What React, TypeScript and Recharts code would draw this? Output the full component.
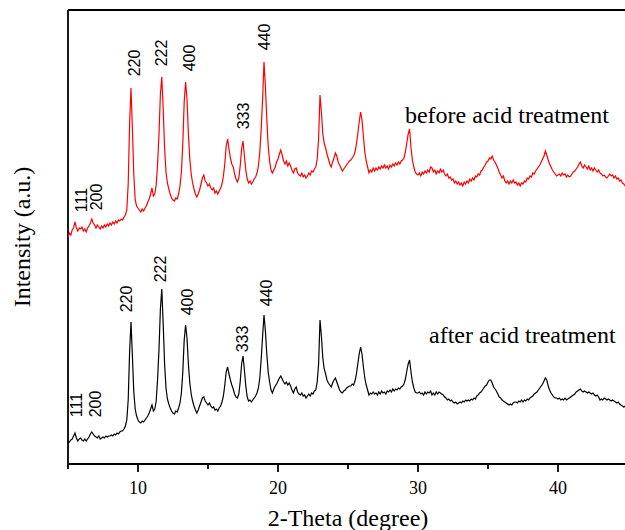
import { LineChart, Line, XAxis, YAxis, ReferenceLine, ReferenceDot } from 'recharts'

// XRD scan: 2-theta from 5 to 45 degree in 0.1 degree steps
const twoThetaStart = 5
const twoThetaStep = 0.1

// intensity (a.u.), one row per degree
const beforeCounts = [
  227, 231, 229, 234, 236, 242, 236, 233, 236, 235,
  237, 233, 235, 232, 236, 238, 241, 245, 241, 239,
  236, 239, 237, 235, 238, 236, 239, 237, 240, 238,
  241, 239, 242, 240, 243, 241, 244, 243, 245, 244,
  247, 249, 254, 280, 340, 376, 335, 290, 264, 258,
  256, 254, 252, 255, 253, 256, 258, 262, 265, 270,
  276, 268, 270, 279, 300, 330, 370, 387, 355, 316,
  292, 281, 275, 270, 266, 264, 263, 266, 265, 270,
  278, 292, 320, 362, 382, 365, 330, 305, 290, 281,
  275, 270, 267, 270, 274, 280, 286, 289, 283, 281,
  278, 280, 276, 274, 276, 271, 273, 270, 273, 276,
  280, 288, 300, 318, 325, 315, 306, 300, 297, 290,
  285, 282, 286, 298, 315, 323, 308, 294, 285, 281,
  283, 280, 282, 285, 287, 291, 298, 312, 335, 365,
  402, 378, 345, 318, 303, 294, 291, 294, 297, 302,
  305, 310, 314, 309, 303, 300, 303, 298, 301, 298,
  294, 291, 295, 296, 291, 289, 288, 291, 287, 289,
  286, 288, 291, 289, 293, 292, 295, 297, 305, 325,
  369, 352, 330, 321, 316, 310, 305, 300, 297, 302,
  306, 311, 308, 302, 299, 296, 293, 295, 297, 299,
  301, 303, 304, 306, 308, 312, 320, 330, 342, 352,
  344, 328, 312, 303, 297, 291, 294, 292, 296, 293,
  296, 294, 297, 295, 298, 296, 299, 296, 298, 295,
  299, 297, 300, 298, 301, 299, 302, 300, 303, 304,
  306, 312, 321, 330, 335, 316, 304, 297, 292, 290,
  289, 291, 288, 292, 290, 293, 291, 294, 292, 297,
  296, 292, 294, 290, 293, 291, 295, 292, 294, 290,
  288, 290, 286, 287, 284, 285, 281, 283, 280, 282,
  279, 281, 278, 282, 280, 283, 281, 285, 283, 286,
  284, 288, 287, 290, 289, 293, 294, 297, 299, 302,
  303, 306, 305, 308, 304, 302, 299, 296, 292, 289,
  286, 288, 283, 281, 283, 280, 283, 281, 284, 281,
  282, 279, 281, 278, 281, 280, 283, 282, 286, 285,
  288, 287, 291, 290, 293, 295, 297, 299, 302, 305,
  308, 313, 309, 304, 300, 297, 294, 292, 290, 288,
  289, 290, 288, 291, 289, 290, 287, 289, 287, 288,
  290, 292, 293, 295, 297, 300, 302, 298, 296, 299,
  297, 295, 298, 294, 296, 293, 296, 294, 292, 294,
  291, 290, 288, 289, 287, 286, 288, 290, 288, 289,
  286, 288, 285, 286, 283, 284, 281, 280, 278, 280,
  280,
]

const afterCounts = [
  21, 22, 24, 25, 28, 31, 26, 23, 25, 26,
  24, 23, 25, 23, 25, 27, 30, 32, 30, 28,
  27, 26, 28, 25, 26, 27, 26, 28, 27, 28,
  28, 29, 28, 30, 29, 31, 30, 32, 33, 33,
  35, 38, 44, 64, 112, 142, 108, 72, 55, 48,
  44, 42, 41, 43, 42, 44, 46, 48, 51, 55,
  59, 53, 55, 63, 85, 115, 155, 175, 140, 100,
  76, 65, 60, 56, 53, 51, 50, 53, 52, 56,
  61, 71, 92, 124, 139, 126, 100, 81, 70, 63,
  58, 54, 51, 54, 58, 62, 66, 67, 63, 61,
  59, 61, 58, 56, 57, 54, 55, 53, 56, 58,
  62, 68, 79, 92, 97, 90, 84, 79, 75, 70,
  67, 66, 70, 82, 100, 108, 94, 78, 67, 63,
  64, 62, 64, 66, 68, 71, 76, 86, 105, 128,
  149, 133, 110, 92, 82, 74, 71, 75, 78, 80,
  83, 86, 88, 85, 82, 80, 82, 79, 81, 78,
  74, 71, 75, 77, 72, 70, 69, 71, 68, 69,
  66, 68, 70, 68, 71, 70, 73, 74, 82, 100,
  144, 128, 106, 95, 90, 84, 81, 79, 77, 81,
  84, 86, 82, 78, 74, 72, 71, 73, 74, 76,
  77, 78, 78, 80, 79, 83, 90, 100, 110, 117,
  110, 97, 86, 79, 74, 69, 71, 70, 72, 70,
  71, 69, 72, 70, 73, 71, 72, 70, 73, 72,
  74, 72, 75, 73, 75, 74, 76, 75, 77, 78,
  80, 85, 93, 100, 104, 92, 82, 76, 72, 71,
  71, 72, 70, 71, 69, 72, 70, 72, 71, 73,
  69, 71, 69, 72, 70, 72, 71, 70, 69, 67,
  66, 64, 65, 63, 64, 62, 61, 62, 60, 61,
  62, 61, 63, 62, 64, 63, 64, 63, 65, 64,
  66, 65, 68, 69, 71, 72, 74, 76, 78, 79,
  82, 84, 84, 81, 77, 75, 73, 70, 67, 66,
  64, 63, 62, 61, 60, 59, 60, 59, 61, 62,
  62, 61, 63, 62, 64, 62, 64, 63, 65, 64,
  66, 67, 68, 70, 71, 72, 74, 76, 78, 80,
  83, 86, 84, 78, 74, 71, 69, 67, 66, 66,
  65, 66, 64, 65, 64, 66, 64, 65, 66, 67,
  68, 69, 70, 72, 73, 74, 75, 73, 72, 73,
  72, 71, 72, 71, 70, 71, 69, 68, 69, 67,
  64, 65, 64, 66, 65, 64, 65, 64, 63, 64,
  63, 62, 61, 62, 60, 59, 58, 57, 58, 57,
  57,
]

// reflection labels: hkl, label centre (2-theta, intensity)
const hkl = ['111', '200', '220', '222', '400', '333', '440']
const beforeLabelTheta = [5.93, 7.07, 9.75, 11.69, 13.71, 17.57, 19.07]
const beforeLabelY = [264, 267, 401, 411, 406, 348, 427]
const afterLabelTheta = [5.62, 6.93, 9.19, 11.62, 13.57, 17.48, 19.21]
const afterLabelY = [59, 60, 165, 195, 162, 125, 171]

const xTicks = [5, 10, 15, 20, 25, 30, 35, 40, 45]

const toSeries = (counts: number[]) =>
  counts.map((v, i) => ({ t: +(twoThetaStart + i * twoThetaStep).toFixed(1), v }))
const beforeData = toSeries(beforeCounts)
const afterData = toSeries(afterCounts)

const serif = '"Liberation Serif", "Times New Roman", serif'
const sans = '"Liberation Sans", Arial, sans-serif'

function AxisTick({ x, y, payload }: { x?: number; y?: number; payload?: { value: number } }) {
  const v = payload?.value ?? 0
  const major = v % 10 === 0
  return (
    <g>
      <line x1={x} x2={x} y1={y} y2={(y ?? 0) + (major ? 8 : 5)} stroke="#000" strokeWidth={1.8} />
      {major && (
        <text x={x} y={(y ?? 0) + 30} textAnchor="middle" fontFamily={serif} fontSize={18} fill="#000">
          {v}
        </text>
      )}
    </g>
  )
}

function YTitle({ viewBox }: { viewBox?: { x: number; y: number; height: number } }) {
  if (!viewBox) return null
  const cx = viewBox.x - 46
  const cy = viewBox.y + viewBox.height / 2
  return (
    <text
      x={cx}
      y={cy}
      transform={`rotate(-90, ${cx}, ${cy})`}
      textAnchor="middle"
      dominantBaseline="central"
      fontFamily={serif}
      fontSize={24}
      fill="#000"
    >
      Intensity (a.u.)
    </text>
  )
}

const hklShape = (label: string) => (p: { cx?: number; cy?: number }) => (
  <text
    x={p.cx}
    y={p.cy}
    transform={`rotate(-90, ${p.cx}, ${p.cy})`}
    textAnchor="middle"
    dominantBaseline="central"
    fontFamily={sans}
    fontSize={16}
    fill="#000"
  >
    {label}
  </text>
)

const noteShape = (label: string) => (p: { cx?: number; cy?: number }) => (
  <text x={p.cx} y={p.cy} fontFamily={serif} fontSize={24} fill="#000">
    {label}
  </text>
)

export default function App() {
  return (
    <div style={{ position: 'fixed', left: 0, top: 0, width: 625, height: 530, overflow: 'hidden', background: '#fff' }}>
      <LineChart width={640} height={530} margin={{ top: 10, right: 12, left: 68, bottom: 0 }}>
        <XAxis
          type="number"
          dataKey="t"
          domain={[5, 45]}
          ticks={xTicks}
          allowDataOverflow
          height={66}
          tickSize={0}
          tickMargin={0}
          tickLine={false}
          tick={<AxisTick />}
          axisLine={{ stroke: '#000', strokeWidth: 1.8 }}
          label={{
            value: '2-Theta (degree)',
            position: 'insideBottom',
            offset: 4,
            style: { fontFamily: serif, fontSize: 24, fill: '#000' },
          }}
        />
        <YAxis type="number" domain={[0, 454]} allowDataOverflow hide />
        <ReferenceLine y={454} stroke="#000" strokeWidth={1.8} />
        <ReferenceLine x={5} stroke="#000" strokeWidth={1.8} label={<YTitle />} />

        <Line
          data={beforeData}
          dataKey="v"
          type="linear"
          stroke="#ff0000"
          strokeWidth={1.2}
          dot={false}
          isAnimationActive={false}
        />
        <Line
          data={afterData}
          dataKey="v"
          type="linear"
          stroke="#000"
          strokeWidth={1.2}
          dot={false}
          isAnimationActive={false}
        />

        {hkl.map((h, i) => (
          <ReferenceDot key={'b' + h} x={beforeLabelTheta[i]} y={beforeLabelY[i]} r={0} shape={hklShape(h)} />
        ))}
        {hkl.map((h, i) => (
          <ReferenceDot key={'a' + h} x={afterLabelTheta[i]} y={afterLabelY[i]} r={0} shape={hklShape(h)} />
        ))}
        <ReferenceDot x={29.07} y={341} r={0} shape={noteShape('before acid treatment')} />
        <ReferenceDot x={30.79} y={121} r={0} shape={noteShape('after acid treatment')} />
      </LineChart>
    </div>
  )
}
